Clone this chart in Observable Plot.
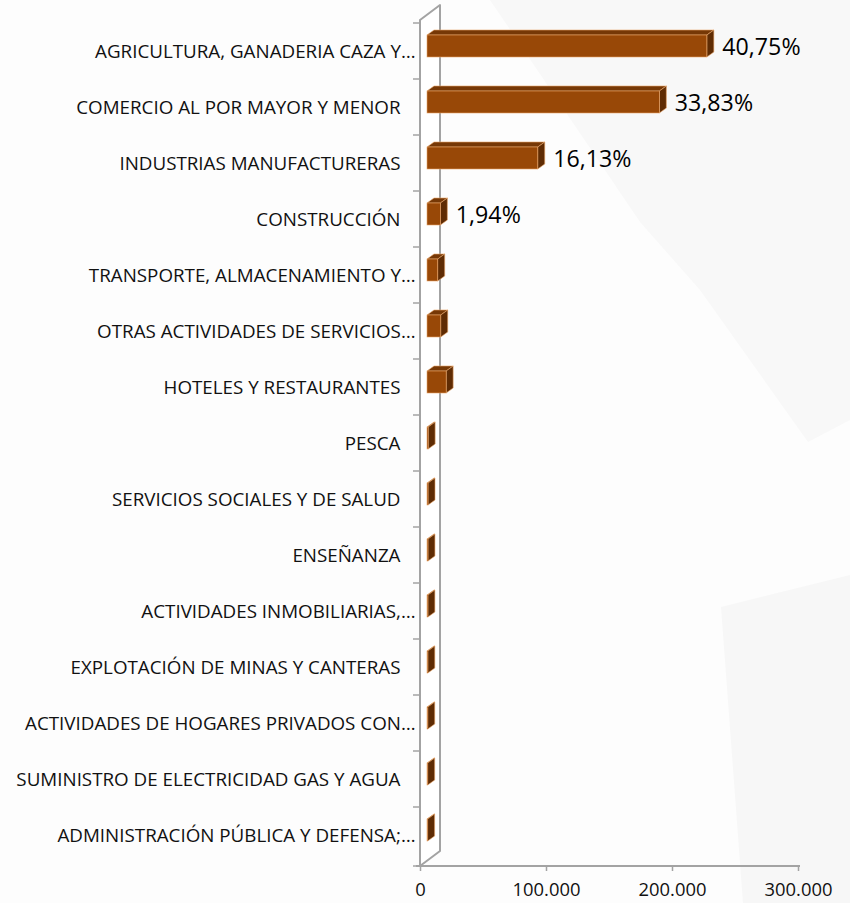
<!DOCTYPE html>
<html>
<head>
<meta charset="utf-8">
<script src="https://cdn.jsdelivr.net/npm/d3@7"></script>
<script src="https://cdn.jsdelivr.net/npm/@observablehq/plot@0.6"></script>
<style>
  html, body { margin: 0; padding: 0; background: #fdfdfd; }
  #wrap { position: relative; width: 850px; height: 903px; overflow: hidden; }
  #bg { position: absolute; left: 0; top: 0; }
  #chart { position: absolute; left: 0; top: 0; }
  #chart svg { display: block; }
</style>
</head>
<body>
<div id="wrap">
  <svg id="bg" width="850" height="903">
    <polygon points="490,0 850,0 850,420 808,442 700,290 640,222" fill="#f8f8f8"/>
    <polygon points="721,607 850,575 850,903 743,903" fill="#f7f7f7"/>
  </svg>
  <div id="chart"></div>
</div>
<script>
// ---- Data ----
const categories = [
  "AGRICULTURA, GANADERIA CAZA Y…",
  "COMERCIO AL POR MAYOR Y MENOR",
  "INDUSTRIAS MANUFACTURERAS",
  "CONSTRUCCIÓN",
  "TRANSPORTE, ALMACENAMIENTO Y…",
  "OTRAS ACTIVIDADES DE SERVICIOS…",
  "HOTELES Y RESTAURANTES",
  "PESCA",
  "SERVICIOS SOCIALES Y DE SALUD",
  "ENSEÑANZA",
  "ACTIVIDADES INMOBILIARIAS,…",
  "EXPLOTACIÓN DE MINAS Y CANTERAS",
  "ACTIVIDADES DE HOGARES PRIVADOS CON…",
  "SUMINISTRO DE ELECTRICIDAD GAS Y AGUA",
  "ADMINISTRACIÓN PÚBLICA Y DEFENSA;…"
];
const values = [
  222100, 184400, 87900, 10600, 8500, 10900, 15200,
  900, 800, 750, 700, 650, 600, 550, 500
];
const percentLabels = [
  "40,75%", "33,83%", "16,13%", "1,94%", "", "", "",
  "", "", "", "", "", "", "", ""
];
const xTicks = [0, 100000, 200000, 300000];

const data = categories.map((c, i) => ({cat: c, value: values[i], label: percentLabels[i]}));

// ---- Styling constants ----
const FONT = "'Open Sans', sans-serif";
const FRONT = "#984807", TOP = "#763806", SIDE = "#5f2c04", EDGE = "#e9a66a";
const WALL = "#a3a3a3";
const OFF_X = 7, OFF_Y = -5;     // bar plane offset from front floor edge
const DEP_X = 7, DEP_Y = -5;     // bar depth
const WALL_X = 20, WALL_Y = -15; // wall depth
const FACE_H = 22;               // bar front face height

const locale = d3.formatLocale({decimal: ",", thousands: ".", grouping: [3], currency: ["", ""]});
const fmt = locale.format(",d");

function wall(index, scales, values, dimensions) {
  const x = scales.x, y = scales.y;
  const g = d3.create("svg:g");
  const x0 = x(0);
  const top = dimensions.marginTop, bottom = dimensions.height - dimensions.marginBottom;
  const xEnd = x(xTicks[xTicks.length - 1]) + 2;
  g.append("path")
    .attr("d", `M${x0},${top}L${x0 + WALL_X},${top + WALL_Y}L${x0 + WALL_X},${bottom + WALL_Y}L${x0},${bottom}Z`)
    .attr("fill", "#ffffff").attr("stroke", WALL).attr("stroke-width", 2).attr("stroke-linejoin", "round");
  // category tick marks at band boundaries
  const edges = categories.map(c => y(c)).concat([bottom]);
  for (const e of edges) {
    g.append("line").attr("x1", x0 - 7).attr("x2", x0).attr("y1", e).attr("y2", e)
      .attr("stroke", WALL).attr("stroke-width", 1.5);
  }
  // floor / value axis line
  g.append("line").attr("x1", x0 - 4).attr("x2", xEnd).attr("y1", bottom).attr("y2", bottom)
    .attr("stroke", WALL).attr("stroke-width", 2);
  return g.node();
}

function bars3d(index, scales) {
  const x = scales.x, y = scales.y;
  const step = y.bandwidth();
  const g = d3.create("svg:g");
  for (const d of data) {
    const x0 = x(0) + OFF_X, x1 = x(d.value) + OFF_X;
    const yc = y(d.cat) + step / 2 + OFF_Y;
    const t = yc - FACE_H / 2, b = yc + FACE_H / 2;
    // top face
    g.append("path")
      .attr("d", `M${x0},${t}L${x1},${t}L${x1 + DEP_X},${t + DEP_Y}L${x0 + DEP_X},${t + DEP_Y}Z`)
      .attr("fill", TOP).attr("stroke", EDGE).attr("stroke-width", 0.6).attr("stroke-linejoin", "round");
    // side face
    g.append("path")
      .attr("d", `M${x1},${t}L${x1 + DEP_X},${t + DEP_Y}L${x1 + DEP_X},${b + DEP_Y}L${x1},${b}Z`)
      .attr("fill", SIDE).attr("stroke", EDGE).attr("stroke-width", 0.6).attr("stroke-linejoin", "round");
    // front face
    g.append("rect")
      .attr("x", x0).attr("y", t).attr("width", Math.max(0, x1 - x0)).attr("height", FACE_H)
      .attr("fill", FRONT).attr("stroke", EDGE).attr("stroke-width", 0.6);
  }
  return g.node();
}

const chart = Plot.plot({
  width: 850,
  height: 903,
  marginLeft: 420,
  marginRight: 52,
  marginTop: 20,
  marginBottom: 37,
  style: {background: "transparent", fontFamily: FONT, color: "#000"},
  x: {domain: [0, 300000], axis: null},
  y: {type: "band", domain: categories, padding: 0, axis: null},
  marks: [
    wall,
    bars3d,
    Plot.axisX({
      ticks: xTicks, tickFormat: fmt, tickSize: 5, tickPadding: 11, label: null,
      stroke: WALL, fontSize: 18.4, fill: "#111", strokeWidth: 1.5
    }),
    Plot.text(data.filter(d => d.cat.endsWith("…")), {
      x: () => 0, y: "cat", text: "cat", textAnchor: "end", dx: -5,
      fontSize: 18.8, fill: "#111"
    }),
    Plot.text(data.filter(d => !d.cat.endsWith("…")), {
      x: () => 0, y: "cat", text: "cat", textAnchor: "end", dx: -20,
      fontSize: 18.8, fill: "#111"
    }),
    Plot.text(data.filter(d => d.label), {
      x: "value", y: "cat", text: "label", textAnchor: "start",
      dx: OFF_X + DEP_X + 8, dy: -4, fontSize: 23.2, fill: "#000"
    })
  ]
});
document.getElementById("chart").append(chart);
</script>
</body>
</html>
